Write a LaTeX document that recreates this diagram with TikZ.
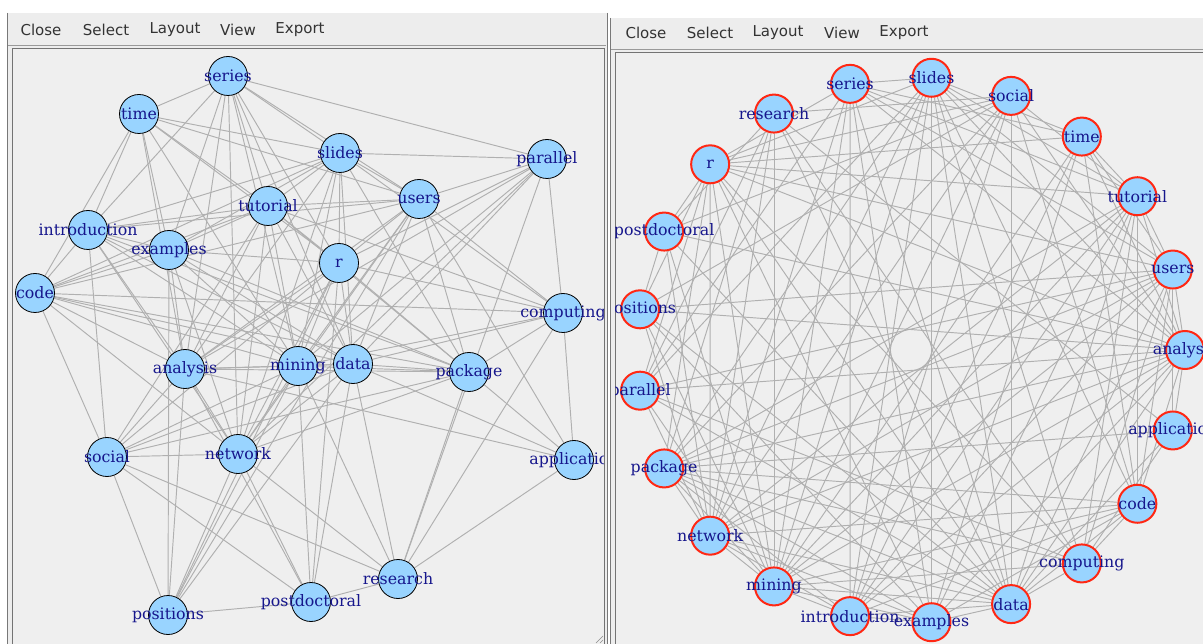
\documentclass[tikz,border=0pt]{standalone}
\usepackage{fontspec}
\newfontfamily\menufam{DejaVu Sans}
\newfontfamily\labfam{DejaVu Serif}
\definecolor{canvasbg}{RGB}{239,239,239}
\definecolor{menubg}{RGB}{237,237,237}
\definecolor{vfill}{RGB}{153,212,255}
\definecolor{vlab}{RGB}{22,22,140}
\definecolor{edgec}{RGB}{176,176,176}
\definecolor{vred}{RGB}{255,40,20}
\definecolor{framec}{RGB}{120,120,120}
\pgfdeclarelayer{win}
\pgfdeclarelayer{edges}
\pgfsetlayers{win,edges,main}
\tikzset{
  vtx/.style={circle, draw=black, line width=0.8pt, fill=vfill, minimum size=39pt, inner sep=0pt},
  cvtx/.style={circle, draw=vred, line width=2pt, fill=vfill, minimum size=38pt, inner sep=0pt},
  lbl/.style={font=\labfam\fontsize{15.8pt}{16pt}\selectfont, text=vlab, inner sep=0pt},
  edge/.style={draw=edgec, line width=0.95pt},
  menuitem/.style={font=\menufam\fontsize{15pt}{16pt}\selectfont, text=black!80, inner sep=0pt},
  grip/.style={draw=black!45, line width=0.6pt}
}
\newcommand{\myedges}{series/time,series/introduction,series/slides,series/users,series/tutorial,series/examples,series/analysis,series/mining,series/data,series/r,series/network,series/parallel,
time/slides,time/users,time/code,time/introduction,time/analysis,time/examples,time/mining,time/tutorial,time/r,
slides/parallel,slides/users,slides/tutorial,slides/introduction,slides/examples,slides/code,slides/r,slides/mining,slides/data,slides/analysis,slides/network,slides/package,slides/computing,
users/parallel,users/tutorial,users/introduction,users/code,users/r,users/mining,users/data,users/analysis,users/network,users/package,users/computing,users/application,users/positions,
parallel/computing,parallel/mining,parallel/data,parallel/r,parallel/network,parallel/research,parallel/analysis,
tutorial/introduction,tutorial/examples,tutorial/code,tutorial/r,tutorial/mining,tutorial/data,tutorial/analysis,tutorial/network,tutorial/package,tutorial/computing,tutorial/social,
introduction/examples,introduction/code,introduction/mining,introduction/data,introduction/analysis,introduction/social,introduction/network,introduction/package,
examples/code,examples/r,examples/mining,examples/data,examples/analysis,examples/network,examples/package,examples/positions,
code/mining,code/data,code/analysis,code/network,code/social,code/package,code/computing,
r/mining,r/data,r/analysis,r/network,r/package,r/computing,r/social,r/positions,r/postdoctoral,
computing/package,computing/data,computing/mining,computing/research,computing/application,
analysis/mining,analysis/data,analysis/social,analysis/network,analysis/positions,analysis/postdoctoral,analysis/package,
mining/data,mining/network,mining/social,mining/package,mining/postdoctoral,mining/positions,mining/research,
data/package,data/network,data/social,data/application,data/research,data/postdoctoral,data/positions,
package/application,package/research,package/network,package/social,
social/network,social/positions,social/postdoctoral,social/research,
network/postdoctoral,network/positions,network/research,
research/postdoctoral,research/application,positions/postdoctoral,application/analysis}
\begin{document}
\begin{tikzpicture}[x=1pt,y=-1pt]
\useasboundingbox (0,0) rectangle (1203,644);
\begin{pgfonlayer}{win}
  \fill[white] (0,0) rectangle (1203,644);
  % left window
  \fill[menubg] (7,13) rectangle (608,644);
  \draw[framec, line width=1pt] (7.5,13) -- (7.5,644);
  \draw[framec, line width=1pt] (607,13) -- (607,644);
  \draw[black!40] (8,45.5) -- (606,45.5);
  \fill[canvasbg] (12,48) rectangle (604,644);
  \draw[black!55, line width=0.8pt] (12,644) -- (12,48) -- (604,48);
  \draw[black!55, line width=0.8pt] (604,48) -- (604,644);
  % right window
  \fill[menubg] (610,18) rectangle (1203,644);
  \draw[framec, line width=1pt] (610,18) -- (610,644);
  \draw[black!40] (611,49.5) -- (1203,49.5);
  \fill[canvasbg] (615,52) rectangle (1203,644);
  \draw[black!55, line width=0.8pt] (615,644) -- (615,52) -- (1203,52);
\end{pgfonlayer}
% menus
\foreach \w/\x in {Close/41,Select/106,Layout/175,View/238,Export/300}
  \node[menuitem] (L\w) at (\x,30) {\w};
\foreach \w/\x in {Close/646,Select/710,Layout/778,View/842,Export/904}
  \node[menuitem] (R\w) at (\x,33) {\w};
% resize grip
\coordinate (g1) at (596,643); \coordinate (g2) at (603,636);
\coordinate (g3) at (600,643); \coordinate (g4) at (603,640);
\draw[grip] (g1) -- (g2); \draw[grip] (g3) -- (g4);
% left graph
\begin{scope}
\clip (12.5,48.5) rectangle (603.5,644);
\foreach \n/\px/\py in {series/228/76,time/139/114,slides/340/153,parallel/547/159,tutorial/268/206,users/419/199,introduction/88/230,examples/169/250,r/339/263,code/35/293,computing/563/313,analysis/185/369,mining/298/366,data/353/364,package/469/372,social/107/457,network/238/454,application/574/460,research/398/579,postdoctoral/311/602,positions/168/615}
  \node[vtx, label={[lbl]center:\n}] (\n) at (\px,\py) {};
\end{scope}
\begin{pgfonlayer}{edges}
\begin{scope}
\clip (12.5,48.5) rectangle (603.5,644);
\foreach \a/\b in \myedges { \draw[edge] (\a) -- (\b); }
\end{scope}
\end{pgfonlayer}
% right graph (circle layout)
\begin{scope}
\clip (615.5,52.5) rectangle (1203,644);
\foreach \n [count=\k from 0] in {analysis,application,code,computing,data,examples,introduction,mining,network,package,parallel,positions,postdoctoral,r,research,series,slides,social,time,tutorial,users}
  \node[cvtx, label={[lbl]center:\n}] (c\n) at ({911+274*cos(\k*360/21)},{350+273*sin(\k*360/21)}) {};
\end{scope}
\begin{pgfonlayer}{edges}
\begin{scope}
\clip (615.5,52.5) rectangle (1203,644);
\foreach \a/\b in \myedges { \draw[edge] (c\a) -- (c\b); }
\end{scope}
\end{pgfonlayer}
\end{tikzpicture}
\end{document}
